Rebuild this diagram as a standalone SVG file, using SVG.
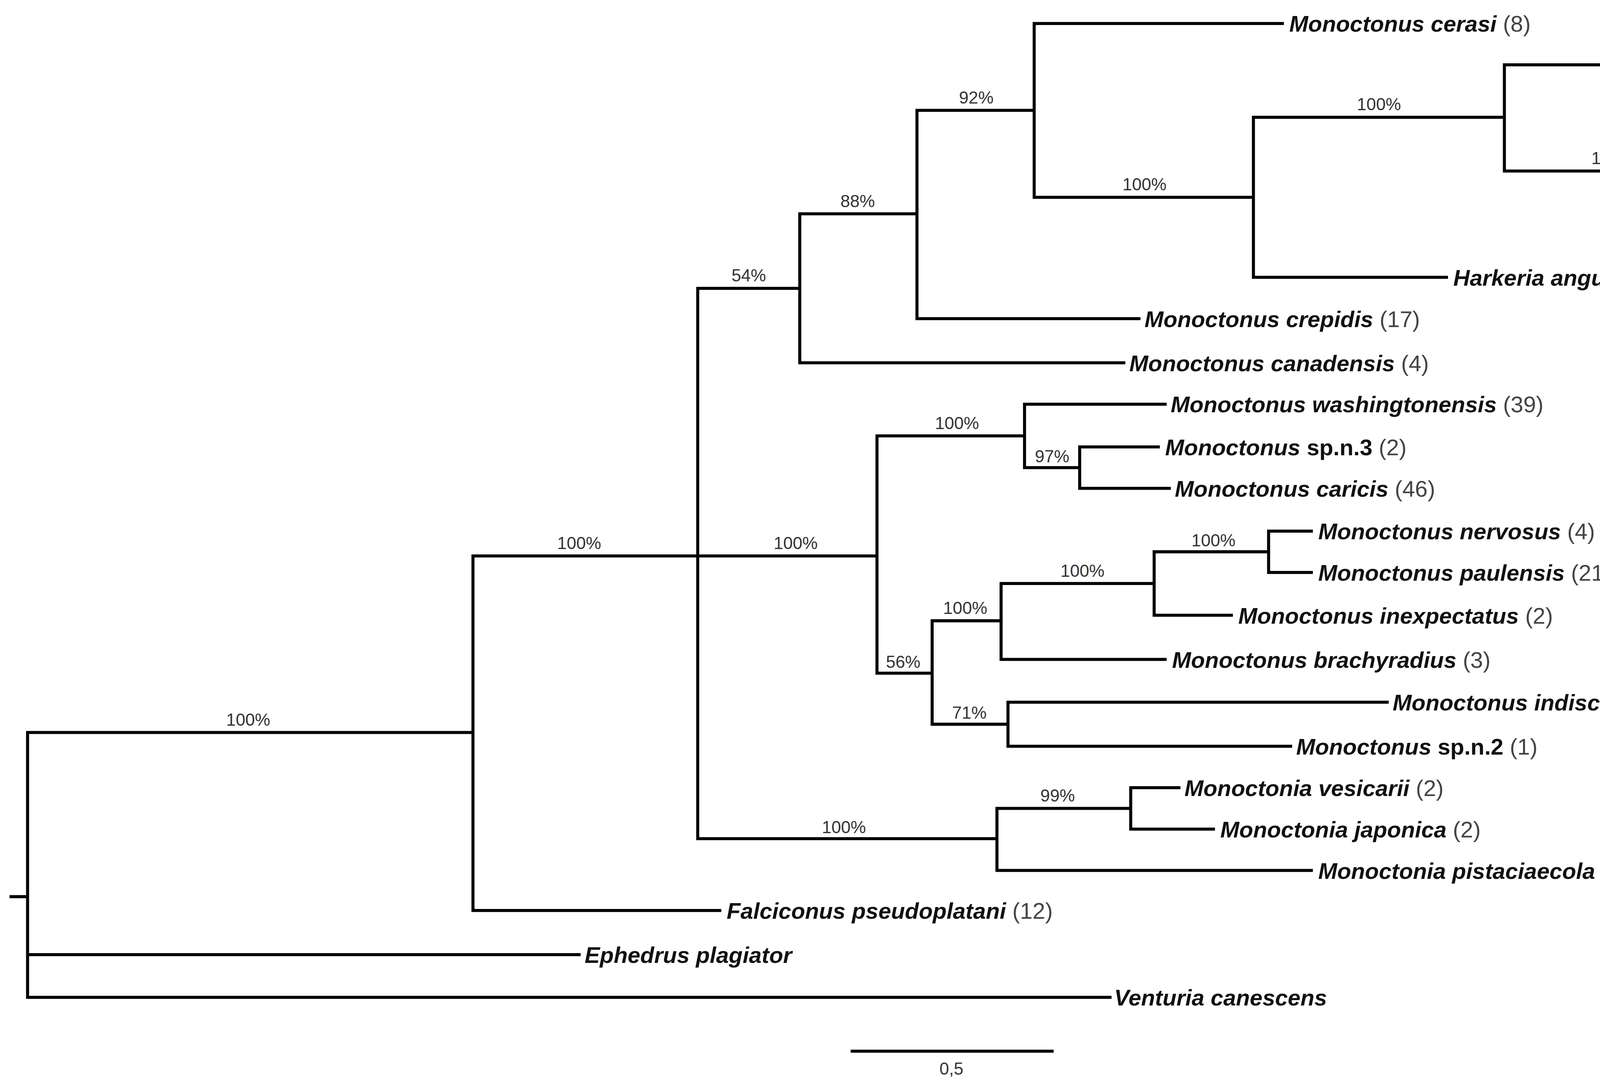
<svg xmlns="http://www.w3.org/2000/svg" width="5535" height="2779" viewBox="0 0 5535 2779">
<style>
.e{stroke:#000;stroke-width:2.2;fill:none;stroke-linecap:square}
.t{font-family:"Liberation Sans",Arial,sans-serif;font-size:16.5px;fill:#111}
.n{font-weight:bold;font-style:italic}
.b{font-weight:bold}
.c{fill:#444}
.s{font-family:"Liberation Sans",Arial,sans-serif;font-size:12.5px;fill:#333;text-anchor:middle}
</style>
<rect width="5535" height="2779" fill="#fff"/>
<g transform="scale(3.53)">
<g id="connectors">
<path class="e" d="M8 650H20M20 531V723M20 531H343M20 692H420M20 723H805
M343 403V660M343 403H506M343 660H522
M506 209V608M506 209H580M506 403H636M506 608H723
M580 155V263M580 155H665M580 263H815
M665 80V231M665 80H750M665 231H826
M750 17V143M750 17H930M750 143H909
M909 85V201M909 85H1091M909 201H1049
M1091 47V124M1091 47H1283M1091 124H1249
M1249 93V154M1249 93H1298M1249 154H1283
M1298 78V108M1298 78H1314M1298 108H1335
M1283 139V170M1283 139H1341M1283 170H1352
M636 316V488M636 316H743M636 488H676
M743 293V339M743 293H845M743 339H783
M783 324V354M783 324H840M783 354H848
M676 450V525M676 450H726M676 525H731
M726 423V478M726 423H837M726 478H845
M837 400V446M837 400H920M837 446H893
M920 385V415M920 385H951M920 415H951
M731 509V541M731 509H1006M731 541H936
M723 586V631M723 586H820M723 631H951
M820 571V601M820 571H855M820 601H880
M618 762H763"/>
</g>
<g id="support">
<text class="s" x="180" y="526">100%</text>
<text class="s" x="420" y="398">100%</text>
<text class="s" x="543" y="204">54%</text>
<text class="s" x="622" y="150">88%</text>
<text class="s" x="708" y="75">92%</text>
<text class="s" x="830" y="138">100%</text>
<text class="s" x="1000" y="80">100%</text>
<text class="s" x="1170" y="119">100%</text>
<text class="s" x="1274" y="89">88%</text>
<text class="s" x="1266" y="152">53%</text>
<text class="s" x="577" y="398">100%</text>
<text class="s" x="694" y="311">100%</text>
<text class="s" x="763" y="335">97%</text>
<text class="s" x="655" y="484">56%</text>
<text class="s" x="700" y="445">100%</text>
<text class="s" x="703" y="521">71%</text>
<text class="s" x="785" y="418">100%</text>
<text class="s" x="880" y="396">100%</text>
<text class="s" x="612" y="604">100%</text>
<text class="s" x="767" y="581">99%</text>
<text class="s" x="690" y="779">0,5</text>
</g>
<g id="tip-cerasi"><text class="t" x="935" y="23"><tspan class="n">Monoctonus cerasi</tspan><tspan class="c"> (8)</tspan></text></g>
<g id="tip-leclanti"><text class="t" x="1287" y="53"><tspan class="n">Monoctonus leclanti</tspan><tspan class="c"> (1)</tspan></text></g>
<g id="tip-allisoni"><text class="t" x="1319" y="84"><tspan class="n">Monoctonus allisoni</tspan><tspan class="c"> (1)</tspan></text></g>
<g id="tip-spn1"><text class="t" x="1340" y="114"><tspan class="n">Monoctonus</tspan><tspan class="b"> sp.n.1</tspan><tspan class="c"> (3)</tspan></text></g>
<g id="tip-luteus"><text class="t" x="1346" y="145"><tspan class="n">Monoctonus luteus</tspan><tspan class="c"> (2)</tspan></text></g>
<g id="tip-parvipalpus"><text class="t" x="1356" y="176"><tspan class="n">Monoctonus parvipalpus</tspan><tspan class="c"> (1)</tspan></text></g>
<g id="tip-harkeria"><text class="t" x="1054" y="207"><tspan class="n">Harkeria angustivalva</tspan><tspan class="c"> (4)</tspan></text></g>
<g id="tip-crepidis"><text class="t" x="830" y="237"><tspan class="n">Monoctonus crepidis</tspan><tspan class="c"> (17)</tspan></text></g>
<g id="tip-canadensis"><text class="t" x="819" y="269"><tspan class="n">Monoctonus canadensis</tspan><tspan class="c"> (4)</tspan></text></g>
<g id="tip-washingtonensis"><text class="t" x="849" y="299"><tspan class="n">Monoctonus washingtonensis</tspan><tspan class="c"> (39)</tspan></text></g>
<g id="tip-spn3"><text class="t" x="845" y="330"><tspan class="n">Monoctonus</tspan><tspan class="b"> sp.n.3</tspan><tspan class="c"> (2)</tspan></text></g>
<g id="tip-caricis"><text class="t" x="852" y="360"><tspan class="n">Monoctonus caricis</tspan><tspan class="c"> (46)</tspan></text></g>
<g id="tip-nervosus"><text class="t" x="956" y="391"><tspan class="n">Monoctonus nervosus</tspan><tspan class="c"> (4)</tspan></text></g>
<g id="tip-paulensis"><text class="t" x="956" y="421"><tspan class="n">Monoctonus paulensis</tspan><tspan class="c"> (21)</tspan></text></g>
<g id="tip-inexpectatus"><text class="t" x="898" y="452"><tspan class="n">Monoctonus inexpectatus</tspan><tspan class="c"> (2)</tspan></text></g>
<g id="tip-brachyradius"><text class="t" x="850" y="484"><tspan class="n">Monoctonus brachyradius</tspan><tspan class="c"> (3)</tspan></text></g>
<g id="tip-indiscretus"><text class="t" x="1010" y="515"><tspan class="n">Monoctonus indiscretus</tspan><tspan class="b"> sp.n.</tspan><tspan class="c"> (5)</tspan></text></g>
<g id="tip-spn2"><text class="t" x="940" y="547"><tspan class="n">Monoctonus</tspan><tspan class="b"> sp.n.2</tspan><tspan class="c"> (1)</tspan></text></g>
<g id="tip-vesicarii"><text class="t" x="859" y="577"><tspan class="n">Monoctonia vesicarii</tspan><tspan class="c"> (2)</tspan></text></g>
<g id="tip-japonica"><text class="t" x="885" y="607"><tspan class="n">Monoctonia japonica</tspan><tspan class="c"> (2)</tspan></text></g>
<g id="tip-pistaciaecola"><text class="t" x="956" y="637"><tspan class="n">Monoctonia pistaciaecola</tspan><tspan class="c"> (3)</tspan></text></g>
<g id="tip-falciconus"><text class="t" x="527" y="666"><tspan class="n">Falciconus pseudoplatani</tspan><tspan class="c"> (12)</tspan></text></g>
<g id="tip-ephedrus"><text class="t" x="424" y="698"><tspan class="n">Ephedrus plagiator</tspan></text></g>
<g id="tip-venturia"><text class="t" x="808" y="729"><tspan class="n">Venturia canescens</tspan></text></g>
</g>
</svg>
